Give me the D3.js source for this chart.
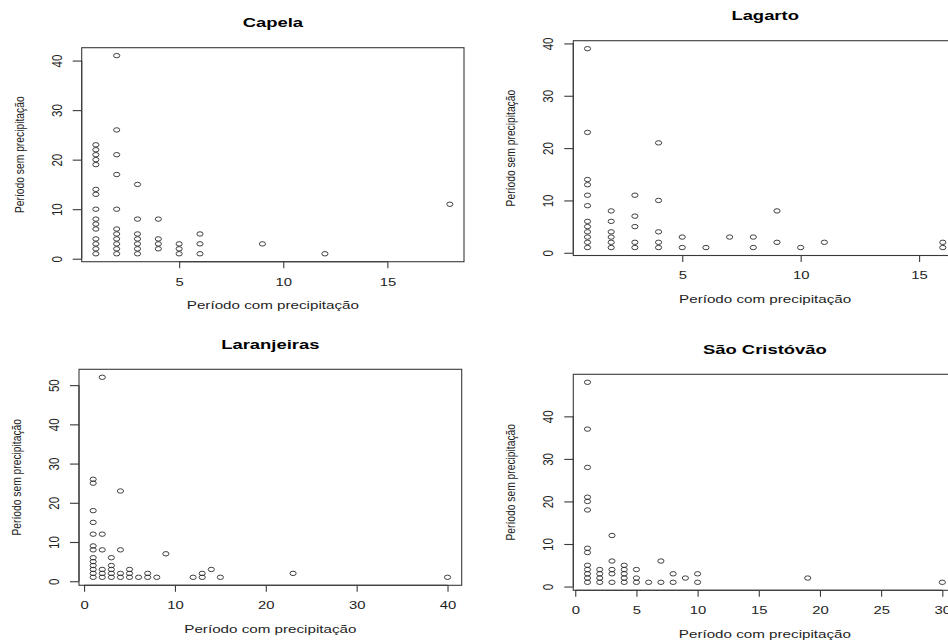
<!DOCTYPE html>
<html><head><meta charset="utf-8">
<script src="https://cdn.jsdelivr.net/npm/d3@7/dist/d3.min.js"></script>
<style>body{margin:0;background:#fff}svg{display:block}</style>
</head><body>
<script>
// ---- data ----
const stations = ["Capela", "Lagarto", "Laranjeiras", "São Cristóvão"];
const xTitle = "Período com precipitação";
const yTitle = "Período sem precipitação";

const capelaCom = [1,1,1,1,1,1,1,1,1,1,1,1,1,1,1, 2,2,2,2,2,2,2,2,2,2,2, 3,3,3,3,3,3,3, 4,4,4,4, 5,5,5, 6,6,6, 9, 12, 18];
const capelaSem = [1,2,3,4,6,7,8,10,13,14,19,20,21,22,23, 1,2,3,4,5,6,10,17,21,26,41, 1,2,3,4,5,8,15, 2,3,4,8, 1,2,3, 1,3,5, 3, 1, 11];

const lagartoCom = [1,1,1,1,1,1,1,1,1,1,1,1, 2,2,2,2,2,2, 3,3,3,3,3, 4,4,4,4,4, 5,5, 6, 7, 8,8, 9,9, 10, 11, 16,16];
const lagartoSem = [1,2,3,4,5,6,9,11,13,14,23,39, 1,2,3,4,6,8, 1,2,5,7,11, 1,2,4,10,21, 1,3, 1, 3, 1,3, 2,8, 1, 2, 1,2];

const laranjeirasCom = [1,1,1,1,1,1,1,1,1,1,1,1,1, 2,2,2,2,2,2, 3,3,3,3,3, 4,4,4,4, 5,5,5, 6, 7,7, 8, 9, 12, 13,13, 14, 15, 23, 40];
const laranjeirasSem = [1,2,3,4,5,6,8,9,12,15,18,25,26, 1,2,3,8,12,52, 1,2,3,4,6, 1,2,8,23, 1,2,3, 1, 1,2, 1, 7, 1, 1,2, 3, 1, 2, 1];

const saoCristovaoCom = [1,1,1,1,1,1,1,1,1,1,1,1,1, 2,2,2,2, 3,3,3,3,3, 4,4,4,4,4, 5,5,5, 6, 7,7, 8,8, 9, 10,10, 19, 30];
const saoCristovaoSem = [1,2,3,4,5,8,9,18,20,21,28,37,48, 1,2,3,4, 1,3,4,6,12, 1,2,3,4,5, 1,2,4, 1, 1,6, 1,3, 2, 1,3, 2, 1];

const xTickValues = [[5,10,15], [5,10,15], [0,10,20,30,40], [0,5,10,15,20,25,30]];
const yTickValues = [[0,10,20,30,40], [0,10,20,30,40], [0,10,20,30,40,50], [0,10,20,30,40]];

// ---- layout ----
const W = 948, H = 643;
const boxes = [
  {x0: 81.7, x1: 464,   y0: 47.7,  y1: 261.7},
  {x0: 573.3, x1: 957,  y0: 40.7,  y1: 255.5},
  {x0: 79,   x1: 461.7, y0: 369.3, y1: 585.3},
  {x0: 573.3, x1: 956.5, y0: 374.3, y1: 590.3}
];
const comSeries = [capelaCom, lagartoCom, laranjeirasCom, saoCristovaoCom];
const semSeries = [capelaSem, lagartoSem, laranjeirasSem, saoCristovaoSem];

const FONT = "'Liberation Sans', Arial, Helvetica, sans-serif";
const INK = "#1e1e1e", LINE = "#3a3a3a";
const SX = 1.35; // horizontal stretch of the reference image

const svg = d3.select("body").append("svg").attr("width", W).attr("height", H)
  .style("font-family", FONT);

// R-style padded domain (4% each side)
function rdom(v) {
  const [a, b] = d3.extent(v); const p = (b - a) * 0.04; return [a - p, b + p];
}

stations.forEach((name, i) => {
  const b = boxes[i];
  const xs = comSeries[i], ys = semSeries[i];
  const x = d3.scaleLinear().domain(rdom(xs)).range([b.x0, b.x1]);
  const y = d3.scaleLinear().domain(rdom(ys)).range([b.y1, b.y0]);
  const g = svg.append("g");

  // box
  g.append("rect").attr("x", b.x0).attr("y", b.y0)
    .attr("width", b.x1 - b.x0).attr("height", b.y1 - b.y0)
    .attr("fill", "none").attr("stroke", LINE).attr("stroke-width", 1.1);

  // x axis
  const xt = xTickValues[i];
  const xa = g.append("g").attr("transform", `translate(0,${b.y1})`)
    .call(d3.axisBottom(x).tickValues(xt).tickSize(6.5).tickSizeOuter(0).tickFormat(d3.format("d")));
  xa.select(".domain").remove();
  xa.append("line").attr("x1", x(xt[0])).attr("x2", x(xt[xt.length - 1]))
    .attr("stroke", LINE).attr("stroke-width", 1.1);
  xa.selectAll(".tick line").attr("stroke", LINE).attr("stroke-width", 1.1);
  xa.selectAll(".tick text").attr("y", 24).attr("dy", null)
    .attr("font-size", 11).attr("fill", INK).attr("font-family", FONT)
    .attr("transform", `scale(${SX},1)`);

  // y axis
  const yt = yTickValues[i];
  const ya = g.append("g").attr("transform", `translate(${b.x0},0)`)
    .call(d3.axisLeft(y).tickValues(yt).tickSize(9).tickSizeOuter(0).tickFormat(d3.format("d")));
  ya.select(".domain").remove();
  ya.append("line").attr("y1", y(yt[0])).attr("y2", y(yt[yt.length - 1]))
    .attr("stroke", LINE).attr("stroke-width", 1.1);
  ya.selectAll(".tick line").attr("stroke", LINE).attr("stroke-width", 1.1);
  ya.selectAll(".tick text")
    .attr("x", null).attr("dy", null).attr("y", null)
    .attr("text-anchor", "middle")
    .attr("font-size", 11.5).attr("fill", INK).attr("font-family", FONT)
    .attr("transform", `translate(-20,0) scale(${SX},1) rotate(-90)`);

  // points
  g.append("g").selectAll("ellipse").data(xs.map((v, k) => [v, ys[k]])).join("ellipse")
    .attr("cx", d => x(d[0])).attr("cy", d => y(d[1]))
    .attr("rx", 3.1).attr("ry", 2.2)
    .attr("fill", "none").attr("stroke", "#2a2a2a").attr("stroke-width", 0.9);

  const cx = (b.x0 + b.x1) / 2, cy = (b.y0 + b.y1) / 2;

  // title
  g.append("text").attr("transform", `translate(${cx},${b.y0 - 20.5}) scale(1.5,1)`)
    .attr("text-anchor", "middle").attr("font-weight", "bold").attr("font-size", 12.3)
    .attr("fill", "#000").text(name);

  // x label
  g.append("text").attr("transform", `translate(${cx},${b.y1 + 47.5}) scale(1.42,1)`)
    .attr("text-anchor", "middle").attr("font-size", 10.7).attr("fill", INK).text(xTitle);

  // y label
  g.append("text").attr("transform", `translate(${b.x0 - 58},${cy}) scale(1.25,1) rotate(-90)`)
    .attr("text-anchor", "middle").attr("font-size", 10.3).attr("fill", INK).text(yTitle);
});
</script>
</body></html>
